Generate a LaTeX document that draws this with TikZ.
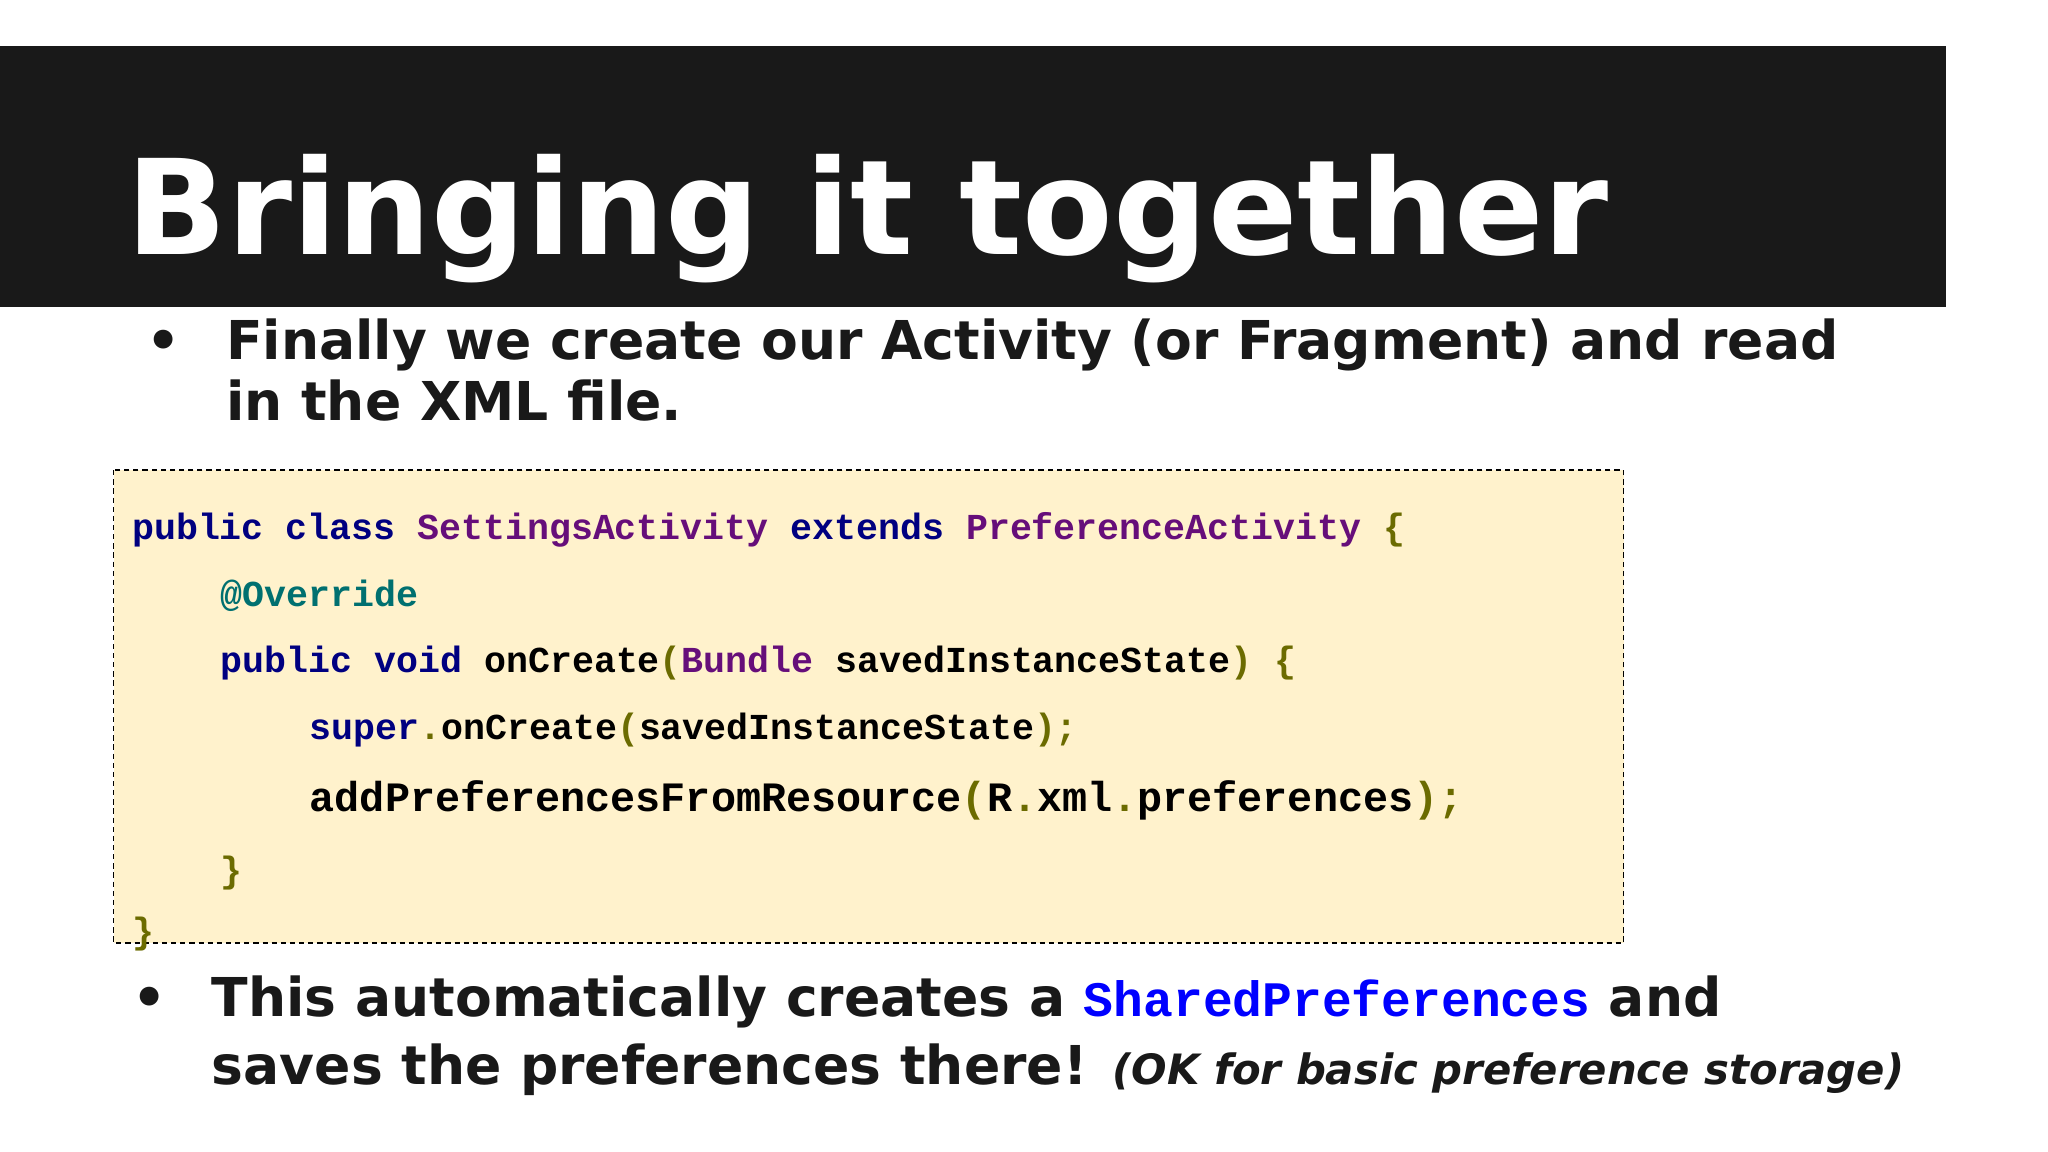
\documentclass[tikz,border=0pt]{standalone}
\usepackage{fontspec}
\setmainfont{DejaVu Sans}
\setmonofont{Liberation Mono}
\begin{document}
\begin{tikzpicture}[x=1pt,y=-1pt,
  t/.style={anchor=base west,inner sep=0pt},
  code/.style={t,font=\fontsize{28}{28}\selectfont\ttfamily\bfseries},
  bul/.style={t,font=\fontsize{41}{41}\selectfont\bfseries,text=black!90}]
\definecolor{kw}{HTML}{000080}
\definecolor{cls}{HTML}{660E7A}
\definecolor{ann}{HTML}{007070}
\definecolor{brk}{HTML}{6B6B00}
\definecolor{codebg}{HTML}{FFF2CC}
\useasboundingbox (0,0) rectangle (1568,882);
\fill[white] (0,0) rectangle (1568,882);
\fill[black!90] (0,35) rectangle (1490,235);
\node[t,font=\fontsize{101}{101}\selectfont\bfseries,text=white] (title) at (97,195) {Bringing it together};
\node[bul] (d1) at (112,275) {•};
\node[bul] (b1) at (173,275) {Finally we create our Activity (or Fragment) and read};
\node[bul] (b1b) at (173,322) {in the XML file.};
\draw[dash pattern=on 4pt off 3pt,fill=codebg,line width=1.3pt] (87,360) rectangle (1243,722);
\node[code] (c1) at (101,413) {\textcolor{kw}{public class} \textcolor{cls}{SettingsActivity} \textcolor{kw}{extends} \textcolor{cls}{PreferenceActivity} \textcolor{brk}{\{}};
\node[code] (c2) at (169,464) {\textcolor{ann}{@Override}};
\node[code] (c3) at (169,515) {\textcolor{kw}{public void} onCreate\textcolor{brk}{(}\textcolor{cls}{Bundle} savedInstanceState\textcolor{brk}{)} \textcolor{brk}{\{}};
\node[code] (c4) at (237,566) {\textcolor{kw}{super}\textcolor{brk}{.}onCreate\textcolor{brk}{(}savedInstanceState\textcolor{brk}{);}};
\node[code,font=\fontsize{32}{32}\selectfont\ttfamily\bfseries] (c5) at (237,621) {addPreferencesFromResource\textcolor{brk}{(}R\textcolor{brk}{.}xml\textcolor{brk}{.}preferences\textcolor{brk}{);}};
\node[code] (c6) at (169,676) {\textcolor{brk}{\}}};
\node[code] (c7) at (101,722) {\textcolor{brk}{\}}};
\node[bul] (d2) at (101,778) {•};
\node[bul] (b2) at (162,778) {This automatically creates a \textcolor{blue}{\fontsize{38}{38}\selectfont\ttfamily\bfseries SharedPreferences} and};
\node[bul] (b2b) at (162,830) {saves the preferences there! {\fontsize{32}{32}\selectfont\itshape (OK for basic preference storage)}};
\end{tikzpicture}
\end{document}
